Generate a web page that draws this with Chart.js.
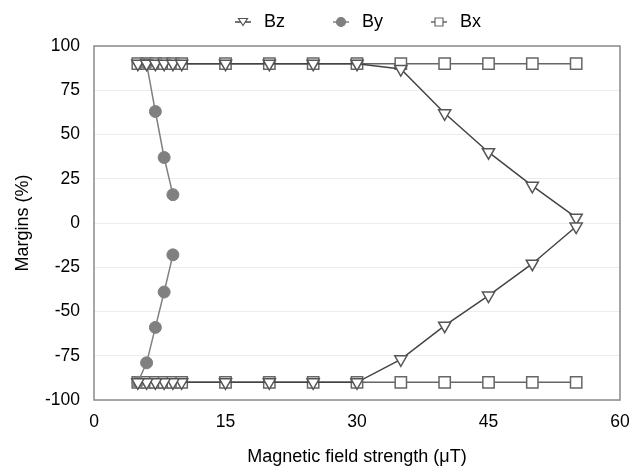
<!DOCTYPE html>
<html>
<head>
<meta charset="utf-8">
<script src="https://cdn.jsdelivr.net/npm/chart.js@4.4.0/dist/chart.umd.min.js"></script>
<style>
  html, body { margin: 0; padding: 0; background: #fff; }
  #wrap { width: 632px; height: 468px; }
</style>
</head>
<body>
<div id="wrap"><canvas id="chart-margins"></canvas></div>
<script>
// field strengths (uT)
const fieldX = [5, 6, 7, 8, 9, 10, 15, 20, 25, 30, 35, 40, 45, 50, 55];
const bzUpper = [90, 90, 90, 90, 90, 90, 90, 90, 90, 90, 87, 62, 40, 21, 3];
const bzLower = [-90, -90, -90, -90, -90, -90, -90, -90, -90, -90, -77, -58, -41, -23, -2];
const bxUpper = [90, 90, 90, 90, 90, 90, 90, 90, 90, 90, 90, 90, 90, 90, 90];
const bxLower = [-90, -90, -90, -90, -90, -90, -90, -90, -90, -90, -90, -90, -90, -90, -90];

const byUpperX = [6, 7, 8, 9];
const byUpper = [90, 63, 37, 16];
const byLowerX = [5, 6, 7, 8, 9];
const byLower = [-90, -79, -59, -39, -18];

const xTicks = [0, 15, 30, 45, 60];
const yTicks = [100, 75, 50, 25, 0, -25, -50, -75, -100];

// upper branch, then a null gap, then lower branch
function branches(xs1, ys1, xs2, ys2) {
  const pts = xs1.map((x, i) => ({ x: x, y: ys1[i] }));
  pts.push({ x: xs1[xs1.length - 1], y: null });
  xs2.forEach((x, i) => pts.push({ x: x, y: ys2[i] }));
  return pts;
}

// legend icon: short line with the marker, blank room on the left
const ICON_W = 40;
function legendIcon(shape, lineColor, stroke, fill) {
  const c = document.createElement("canvas");
  c.width = ICON_W;
  c.height = 12;
  const g = c.getContext("2d");
  const mid = ICON_W - 12;
  g.strokeStyle = lineColor;
  g.lineWidth = 1.5;
  g.beginPath();
  g.moveTo(mid - 8, 6);
  g.lineTo(mid + 8, 6);
  g.stroke();
  g.fillStyle = fill;
  g.strokeStyle = stroke;
  g.lineWidth = 1.2;
  g.beginPath();
  if (shape === "triangle") {
    g.moveTo(mid - 4.5, 2.5);
    g.lineTo(mid + 4.5, 2.5);
    g.lineTo(mid, 9.5);
    g.closePath();
  } else if (shape === "circle") {
    g.arc(mid, 6, 4.5, 0, Math.PI * 2);
  } else {
    g.rect(mid - 4, 2, 8, 8);
  }
  g.fill();
  g.stroke();
  return c;
}

const icons = [
  legendIcon("triangle", "#444", "#555", "#fff"),
  legendIcon("circle", "#808080", "#808080", "#808080"),
  legendIcon("rect", "#666", "#666", "#fff"),
];

const boxPlugin = {
  id: "box",
  afterDraw(chart) {
    const a = chart.chartArea;
    const c = chart.ctx;
    c.save();
    c.strokeStyle = "#8a8a8a";
    c.lineWidth = 1.5;
    c.strokeRect(a.left, a.top, a.right - a.left, a.bottom - a.top);
    c.restore();
  },
};

const ctx = document.getElementById("chart-margins").getContext("2d");
Chart.defaults.font.family = "'Liberation Sans', Arial, sans-serif";
Chart.defaults.color = "#000";

new Chart(ctx, {
  type: "line",
  data: {
    datasets: [
      {
        label: "Bz",
        data: branches(fieldX, bzUpper, fieldX.slice().reverse(), bzLower.slice().reverse()),
        borderColor: "#444",
        borderWidth: 1.5,
        backgroundColor: "#fff",
        pointStyle: "triangle",
        pointRotation: 180,
        pointRadius: 7,
        pointBorderWidth: 1.5,
        pointBorderColor: "#555",
        pointBackgroundColor: "#fff",
      },
      {
        label: "By",
        data: branches(byUpperX, byUpper, byLowerX, byLower),
        borderColor: "#808080",
        borderWidth: 1.5,
        backgroundColor: "#808080",
        pointStyle: "circle",
        pointRadius: 6,
        pointBorderWidth: 1,
        pointBorderColor: "#808080",
        pointBackgroundColor: "#808080",
      },
      {
        label: "Bx",
        data: branches(fieldX, bxUpper, fieldX, bxLower),
        borderColor: "#666",
        borderWidth: 1.5,
        backgroundColor: "#fff",
        pointStyle: "rect",
        pointRadius: 8,
        pointBorderWidth: 1.5,
        pointBorderColor: "#666",
        pointBackgroundColor: "#fff",
      },
    ],
  },
  options: {
    responsive: true,
    maintainAspectRatio: false,
    animation: false,
    spanGaps: false,
    layout: { padding: { left: 0, right: 12, top: 3, bottom: 0 } },
    plugins: {
      legend: {
        position: "top",
        fullSize: false,
        labels: {
          usePointStyle: true,
          pointStyleWidth: ICON_W,
          padding: 10,
          font: { size: 18 },
          color: "#000",
          generateLabels: (chart) => {
            const items = Chart.defaults.plugins.legend.labels.generateLabels(chart);
            items.forEach((it, i) => {
              it.pointStyle = icons[i];
              it.rotation = 0;
              it.text = it.text + "\u2002\u2002";
            });
            return items;
          },
        },
      },
      tooltip: { enabled: false },
    },
    scales: {
      x: {
        type: "linear",
        min: 0,
        max: 60,
        afterBuildTicks: (axis) => {
          axis.ticks = xTicks.map((v) => ({ value: v }));
        },
        ticks: { font: { size: 17.5 }, color: "#000", padding: 12 },
        grid: { display: false, drawTicks: false },
        border: { display: false },
        title: {
          display: true,
          text: "Magnetic field strength (μT)",
          font: { size: 18 },
          color: "#000",
          padding: { top: 6, bottom: 0 },
        },
        afterFit: (axis) => {
          axis.height = 68;
          axis.paddingRight = 0;
          axis.paddingLeft = 0;
        },
      },
      // empty strip between legend and plot
      xTop: {
        type: "linear",
        position: "top",
        min: 0,
        max: 60,
        grid: { display: false, drawTicks: false },
        ticks: { display: false },
        border: { display: false },
        afterFit: (axis) => {
          axis.height = 5;
        },
      },
      y: {
        min: -100,
        max: 100,
        afterBuildTicks: (axis) => {
          axis.ticks = yTicks.map((v) => ({ value: v }));
        },
        ticks: { font: { size: 17.5 }, color: "#000", padding: 14 },
        grid: { color: "#ececec", drawTicks: false },
        border: { display: false },
        title: {
          display: true,
          text: "Margins (%)",
          font: { size: 18 },
          color: "#000",
          padding: { top: 12, bottom: 0 },
        },
        afterFit: (axis) => {
          axis.width = 94;
        },
      },
    },
  },
  plugins: [boxPlugin],
});
</script>
</body>
</html>
